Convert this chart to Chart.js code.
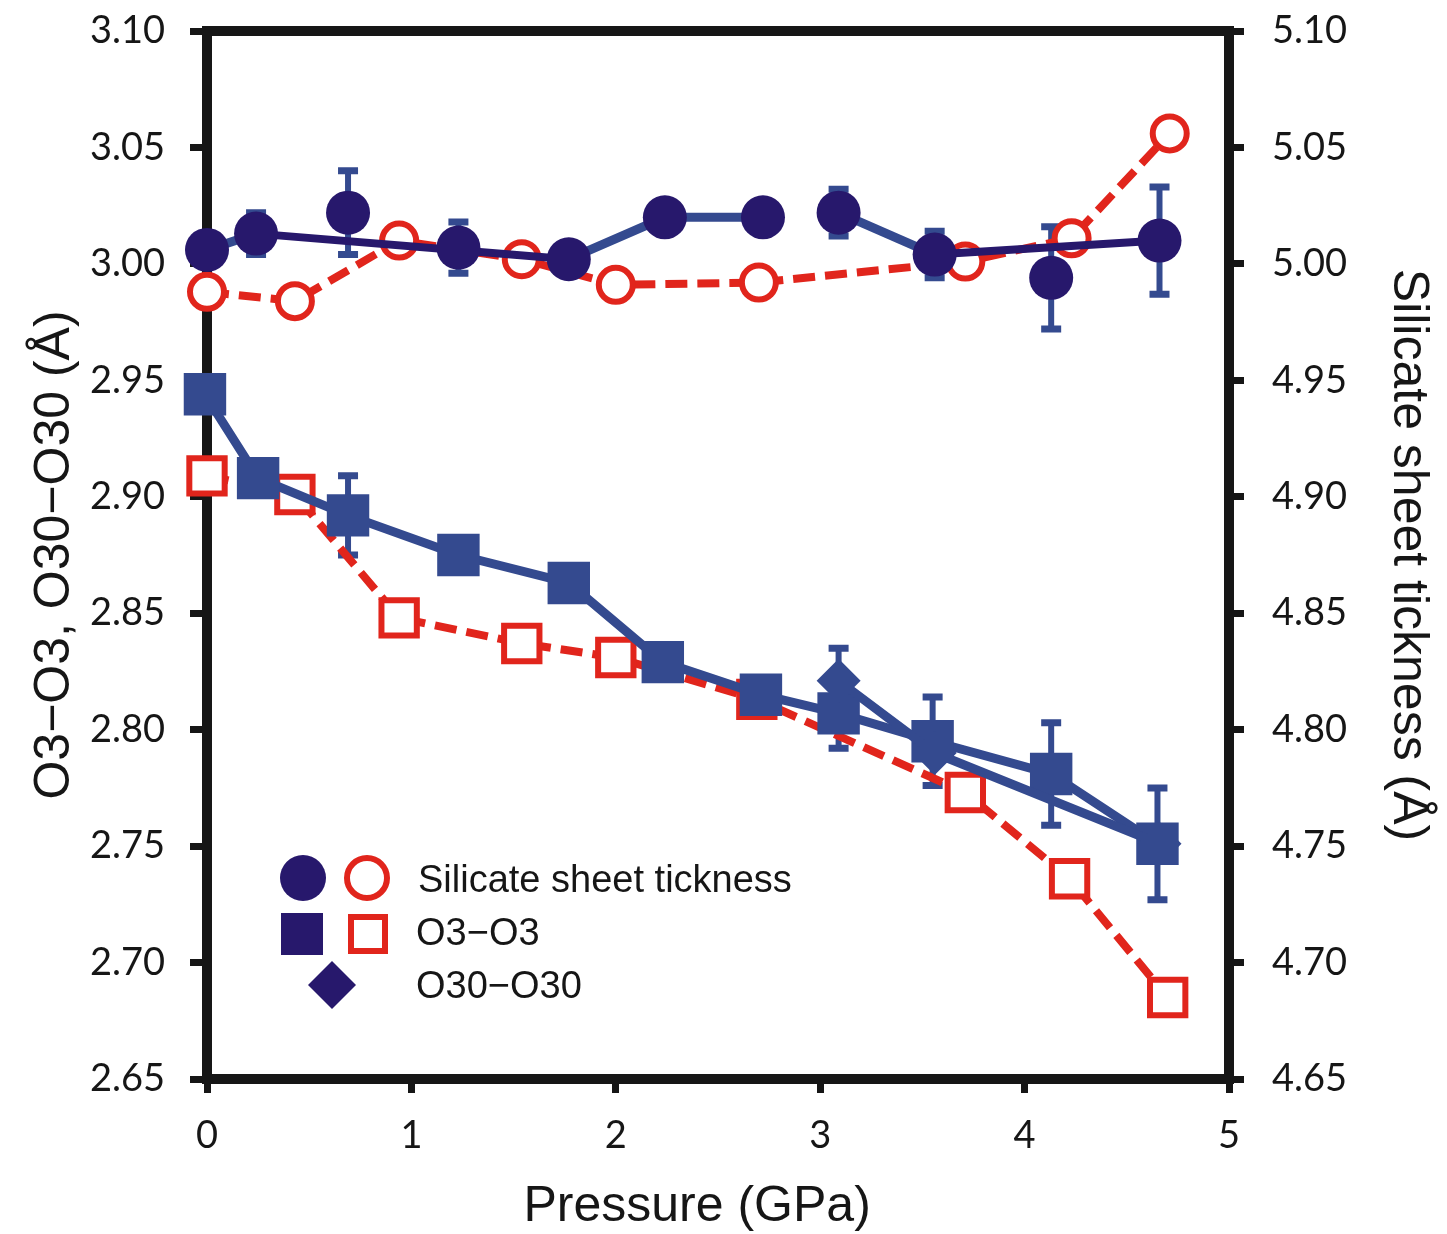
<!DOCTYPE html>
<html>
<head>
<meta charset="utf-8">
<script src="https://cdn.jsdelivr.net/npm/chart.js@4.4.1/dist/chart.umd.min.js"></script>
<style>
  html, body { margin: 0; padding: 0; background: #fff; }
  #wrap { position: relative; width: 1447px; height: 1234px; }
</style>
</head>
<body>
<div id="wrap"><canvas id="chart"></canvas></div>
<script>
// pressure (GPa) and values
const circleP   = [0, 0.24, 0.69, 1.23, 1.77, 2.24, 2.72, 3.09, 3.56, 4.13, 4.66];
const circleT   = [5.006, 5.013, 5.022, 5.007, 5.002, 5.020, 5.020, 5.022, 5.004, 4.994, 5.010];
const circleErr = [0, 0.009, 0.018, 0.011, 0, 0, 0, 0.010, 0.010, 0.022, 0.023];

const openCircleP = [0, 0.43, 0.94, 1.54, 2.00, 2.70, 3.71, 4.23, 4.71];
const openCircleT = [4.988, 4.984, 5.010, 5.002, 4.991, 4.992, 5.001, 5.011, 5.056];

const squareP   = [-0.01, 0.25, 0.69, 1.23, 1.77, 2.23, 2.71, 3.09, 3.55, 4.13, 4.65];
const squareD   = [2.944, 2.908, 2.892, 2.875, 2.863, 2.829, 2.815, 2.807, 2.795, 2.781, 2.751];
const squareErr = [0, 0, 0.017, 0.006, 0, 0, 0, 0.015, 0.019, 0.022, 0.024];

const openSquareP = [0, 0.43, 0.94, 1.54, 2.00, 2.69, 3.71, 4.22, 4.70];
const openSquareD = [2.909, 2.901, 2.848, 2.837, 2.831, 2.813, 2.773, 2.736, 2.685];

const diamondP   = [3.09, 3.56, 4.66];
const diamondD   = [2.821, 2.790, 2.751];
const diamondErr = [0.014, 0, 0];

// which circles the light segments / the dark line join
const lightSegs = [0, 4, 5, 7];
const darkIdx = [1, 4, null, 8, 10];

const xTicks  = [0, 1, 2, 3, 4, 5];
const yTicks  = [2.65, 2.70, 2.75, 2.80, 2.85, 2.90, 2.95, 3.00, 3.05, 3.10];
const y1Ticks = [4.65, 4.70, 4.75, 4.80, 4.85, 4.90, 4.95, 5.00, 5.05, 5.10];

const legendLabels = ['Silicate sheet tickness', 'O3\u2212O3', 'O30\u2212O30'];

const NAVY = '#27186c';
const BLUE = '#344a8f';
const RED = '#e1251c';
const INK = '#161616';
const TICK_FONT = 'Lato, "Open Sans", sans-serif';
const TITLE_FONT = '"Liberation Sans", Arial, sans-serif';

const pts = (xs, ys) => xs.map((x, i) => ({ x: x, y: ys[i] }));

const frameAndErrors = {
    id: 'frameAndErrors',
    beforeDatasetsDraw(chart) {
        const { ctx, chartArea: a } = chart;
        ctx.save();
        ctx.strokeStyle = INK;
        ctx.lineWidth = 10;
        ctx.strokeRect(a.left, a.top, a.right - a.left, a.bottom - a.top);

        chart.data.datasets.forEach(ds => {
            if (!ds.errors) return;
            const xs = chart.scales.x;
            const ys = chart.scales[ds.yAxisID];
            ctx.strokeStyle = ds.errorColor;
            ds.data.forEach((pt, j) => {
                const e = ds.errors[j];
                if (!e) return;
                const px = xs.getPixelForValue(pt.x);
                const lo = ys.getPixelForValue(pt.y - e);
                const hi = ys.getPixelForValue(pt.y + e);
                ctx.lineWidth = 6;
                ctx.beginPath();
                ctx.moveTo(px, lo);
                ctx.lineTo(px, hi);
                ctx.stroke();
                ctx.lineWidth = 7;
                ctx.beginPath();
                ctx.moveTo(px - 10, lo);
                ctx.lineTo(px + 10, lo);
                ctx.moveTo(px - 10, hi);
                ctx.lineTo(px + 10, hi);
                ctx.stroke();
            });
        });
        ctx.restore();
    }
};

const markerLegend = {
    id: 'markerLegend',
    afterDraw(chart) {
        const ctx = chart.ctx;
        ctx.save();
        // row 1: circles
        ctx.fillStyle = NAVY;
        ctx.beginPath();
        ctx.arc(303, 878, 23, 0, Math.PI * 2);
        ctx.fill();
        ctx.strokeStyle = RED;
        ctx.lineWidth = 6;
        ctx.beginPath();
        ctx.arc(367, 878, 20, 0, Math.PI * 2);
        ctx.stroke();
        // row 2: squares
        ctx.fillRect(281, 913, 42, 42);
        ctx.strokeRect(351, 917, 34, 34);
        // row 3: diamond
        ctx.beginPath();
        ctx.moveTo(332, 961);
        ctx.lineTo(356, 985);
        ctx.lineTo(332, 1009);
        ctx.lineTo(308, 985);
        ctx.closePath();
        ctx.fill();

        ctx.fillStyle = INK;
        ctx.font = '38px ' + TITLE_FONT;
        ctx.textBaseline = 'alphabetic';
        ctx.fillText(legendLabels[0], 418, 892);
        ctx.fillText(legendLabels[1], 416, 945);
        ctx.fillText(legendLabels[2], 416, 998);
        ctx.restore();
    }
};

const setTicks = list => scale => { scale.ticks = list.map(v => ({ value: v })); };

// fixed box sizes so the plot frame lands where the figure has it
const fixWidth = w => s => { s.width = w; s.paddingTop = 0; s.paddingBottom = 0; };

const tickGrid = len => ({
    display: true,
    drawOnChartArea: false,
    drawTicks: true,
    tickLength: len,
    tickWidth: 7,
    tickColor: INK
});

new Chart(document.getElementById('chart'), {
    type: 'line',
    data: {
        datasets: [
            {
                label: 'Silicate sheet tickness',
                data: pts(circleP, circleT),
                yAxisID: 'y1',
                borderWidth: 9,
                segment: {
                    borderColor: c => lightSegs.includes(c.p0DataIndex) ? BLUE : 'rgba(0,0,0,0)'
                },
                borderColor: BLUE,
                pointStyle: 'circle',
                pointRadius: 22,
                pointBorderWidth: 0,
                pointBackgroundColor: NAVY,
                errors: circleErr,
                errorColor: BLUE,
                clip: false
            },
            {
                label: 'fit',
                data: darkIdx.map(i => i === null ? { x: 3, y: null } : { x: circleP[i], y: circleT[i] }),
                yAxisID: 'y1',
                borderColor: NAVY,
                borderWidth: 8,
                pointRadius: 0,
                clip: false
            },
            {
                label: 'O30-O30',
                data: pts(diamondP, diamondD),
                yAxisID: 'y',
                borderColor: BLUE,
                borderWidth: 9,
                pointStyle: 'rectRot',
                pointRadius: 22,
                pointBorderWidth: 0,
                pointBackgroundColor: BLUE,
                errors: diamondErr,
                errorColor: BLUE,
                clip: false
            },
            {
                label: 'O3-O3',
                data: pts(squareP, squareD),
                yAxisID: 'y',
                borderColor: BLUE,
                borderWidth: 9,
                pointStyle: 'rect',
                pointRadius: 30,
                pointBorderWidth: 0,
                pointBackgroundColor: BLUE,
                errors: squareErr,
                errorColor: BLUE,
                clip: false
            },
            {
                label: 'Silicate sheet tickness (open)',
                data: pts(openCircleP, openCircleT),
                yAxisID: 'y1',
                borderColor: RED,
                borderWidth: 8,
                borderDash: [22, 10],
                pointStyle: 'circle',
                pointRadius: 17,
                pointBorderWidth: 6,
                pointBorderColor: RED,
                pointBackgroundColor: '#fff',
                clip: false
            },
            {
                label: 'O3-O3 (open)',
                data: pts(openSquareP, openSquareD),
                yAxisID: 'y',
                borderColor: RED,
                borderWidth: 8,
                borderDash: [22, 10],
                pointStyle: 'rect',
                pointRadius: 25,
                pointBorderWidth: 6,
                pointBorderColor: RED,
                pointBackgroundColor: '#fff',
                clip: false
            }
        ]
    },
    options: {
        responsive: true,
        maintainAspectRatio: false,
        animation: false,
        events: [],
        layout: { padding: { top: 29, left: 0, right: 0, bottom: 0 } },
        plugins: {
            legend: { display: false },
            tooltip: { enabled: false }
        },
        scales: {
            x: {
                type: 'linear',
                min: 0,
                max: 5,
                afterBuildTicks: setTicks(xTicks),
                afterFit: s => { s.height = 155; s.paddingLeft = 0; s.paddingRight = 0; },
                grid: tickGrid(14),
                border: { display: false },
                ticks: {
                    color: INK,
                    padding: 20,
                    font: { family: TICK_FONT, size: 38 },
                    maxRotation: 0
                },
                title: {
                    display: true,
                    // trailing spaces nudge the centred title left, as in the figure
                    text: 'Pressure (GPa)\u00a0\u00a0\u00a0',
                    color: INK,
                    font: { family: TITLE_FONT, size: 50, lineHeight: 1 },
                    padding: { top: 0, bottom: 2 }
                }
            },
            y: {
                type: 'linear',
                position: 'left',
                min: 2.65,
                max: 3.10,
                afterBuildTicks: setTicks(yTicks),
                afterFit: fixWidth(207),
                grid: tickGrid(17),
                border: { display: false },
                ticks: {
                    color: INK,
                    padding: 25,
                    font: { family: TICK_FONT, size: 38 },
                    callback: v => v.toFixed(2)
                },
                title: {
                    display: true,
                    text: 'O3\u2212O3, O30\u2212O30 (\u00c5)',
                    color: INK,
                    font: { family: TITLE_FONT, size: 50 },
                    padding: { top: 25, bottom: 0 }
                }
            },
            y1: {
                type: 'linear',
                position: 'right',
                min: 4.65,
                max: 5.10,
                afterBuildTicks: setTicks(y1Ticks),
                afterFit: fixWidth(218),
                grid: tickGrid(15),
                border: { display: false },
                ticks: {
                    color: INK,
                    padding: 28,
                    font: { family: TICK_FONT, size: 38 },
                    callback: v => v.toFixed(2)
                },
                title: {
                    display: true,
                    text: 'Silicate sheet tickness (\u00c5)',
                    color: INK,
                    font: { family: TITLE_FONT, size: 50 },
                    padding: { top: 9, bottom: 0 }
                }
            }
        }
    },
    plugins: [frameAndErrors, markerLegend]
});
</script>
</body>
</html>
